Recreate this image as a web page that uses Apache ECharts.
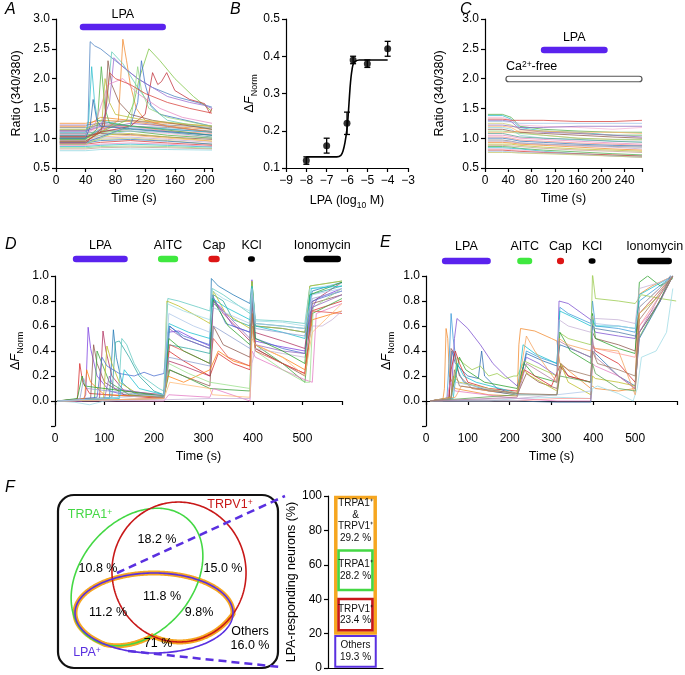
<!DOCTYPE html>
<html><head><meta charset="utf-8">
<script src="https://cdn.jsdelivr.net/npm/echarts/dist/echarts.min.js"></script>
<style>html,body{margin:0;padding:0;background:#fff}#c{width:685px;height:675px}</style>
</head><body><div id="c"></div>
<script>
const FONT = '"Liberation Sans", Arial, Helvetica, sans-serif';
const PALETTE = ['#3b78b5','#f28a2e','#4daf4a','#d8403a','#8e6bbf','#8c5a4b','#e68ac3','#8a8a8a','#bcbd3a','#2fbfcf','#9fc3e6','#ffb36b','#90d47f','#f4908d','#bfa9d6','#c4a092','#f4b3d3','#c9c96e','#8fd6e0','#5a9e8f'];
const LPA_C = '#5a22ee', AITC_C = '#3fe83f', CAP_C = '#dd1515', KCL_C = '#000', IONO_C = '#000';
const ORANGE = '#f6a620', VGREEN = '#44d844', VRED = '#c81818', VPURPLE = '#5a30e0';

// ---------- Panel A : Ratio (340/380) vs time ----------
const A_BASE_T = [5, 40, 60, 100, 150, 210];
const A_BASE = [
 [1.25,1.25,1.30,1.28,1.20,1.15],[1.22,1.22,1.25,1.20,1.15,1.10],[1.18,1.18,1.22,1.20,1.18,1.12],
 [1.15,1.15,1.20,1.18,1.12,1.05],[1.12,1.12,1.18,1.20,1.12,1.08],[1.10,1.10,1.15,1.12,1.08,1.00],
 [1.08,1.08,1.12,1.15,1.10,1.02],[1.05,1.05,1.10,1.12,1.05,1.00],[1.03,1.03,1.08,1.06,1.02,0.98],
 [1.00,1.00,1.05,1.08,1.02,0.95],[0.98,0.98,1.02,1.05,1.00,0.95],[0.96,0.96,1.00,1.02,0.98,0.93],
 [0.94,0.94,0.98,1.00,0.96,0.90],[0.92,0.92,0.96,0.98,0.95,0.90],[0.90,0.90,0.93,0.96,0.92,0.88],
 [0.88,0.88,0.90,0.92,0.90,0.86],[0.86,0.86,0.88,0.90,0.88,0.85],[0.84,0.84,0.86,0.87,0.86,0.83],
 [0.82,0.82,0.84,0.85,0.84,0.82],[0.79,0.79,0.81,0.82,0.81,0.80],[1.20,1.20,1.35,1.30,1.25,1.20],
 [1.00,1.00,1.15,1.25,1.20,1.10],[1.13,1.13,1.25,1.30,1.22,1.18],[0.97,0.97,1.05,1.12,1.10,1.05]
];
const A_RESP = [
 [5,1.05, 40,1.05, 43,1.2, 46,2.62, 52,2.55, 60,2.5, 75,2.35, 90,2.2, 110,2.0, 130,1.85, 160,1.7, 190,1.6, 210,1.52],
 [5,0.95, 40,0.95, 60,1.1, 84,1.3, 90,2.66, 95,2.3, 100,1.9, 108,1.5, 120,1.3, 150,1.2, 210,1.1],
 [5,1.0, 40,1.0, 60,1.1, 95,1.3, 105,1.6, 112,2.0, 125,2.5, 140,2.3, 160,2.0, 185,1.7, 200,1.55, 210,1.45],
 [5,1.1, 40,1.1, 44,1.3, 48,2.2, 52,1.6, 56,1.3, 100,1.2, 210,1.1],
 [5,1.0, 40,1.0, 65,1.2, 70,1.8, 75,2.45, 90,2.25, 110,1.85, 130,1.5, 150,1.3, 210,1.15],
 [5,0.98, 40,0.98, 55,1.15, 61,2.2, 66,1.5, 72,1.25, 210,1.05],
 [5,0.95, 40,0.95, 60,1.1, 66,1.4, 70,2.3, 75,1.9, 85,1.6, 100,1.4, 130,1.3, 210,1.15],
 [5,1.02, 40,1.02, 60,1.1, 100,1.2, 120,1.4, 130,2.1, 137,1.9, 142,1.95, 149,2.1, 160,1.8, 180,1.65, 200,1.58, 207,1.42, 210,1.5],
 [5,0.93, 40,0.93, 100,1.2, 110,1.6, 115,2.3, 120,1.9, 128,1.55, 140,1.4, 210,1.2],
 [5,1.12, 40,1.12, 60,1.2, 72,1.6, 78,2.35, 90,2.2, 110,2.0, 130,1.85, 150,1.7, 180,1.6, 200,1.55, 210,1.5],
 [5,0.9, 40,0.9, 100,1.2, 106,1.8, 110,2.2, 115,1.8, 125,1.5, 150,1.35, 210,1.2],
 [5,1.07, 40,1.07, 50,1.15, 70,1.9, 90,2.0, 110,1.75, 140,1.5, 170,1.35, 210,1.25],
 [5,1.0, 40,1.0, 46,1.2, 50,1.65, 55,1.3, 60,1.2, 210,1.05],
 [5,1.15, 40,1.15, 62,1.3, 66,2.0, 72,1.6, 80,1.4, 120,1.3, 210,1.2],
 [5,0.92, 40,0.92, 65,1.2, 72,2.1, 80,2.0, 100,1.9, 120,1.75, 150,1.6, 180,1.5, 210,1.42]
];
const A_RESP_COLORS = ['#4a7fc0','#f28a2e','#7cc440','#2fbfcf','#5fcab5','#4daf4a','#8c5a4b','#c0303a','#3b6fc8','#9a6bd0','#90d47f','#e68ac3','#2b6cb0','#bcbd3a','#d8403a'];

// ---------- Panel B : dose response ----------
const B_X = [-8, -7, -6, -5.7, -5, -4];
const B_Y = [0.12, 0.16, 0.22, 0.39, 0.38, 0.42];
const B_ERR = [0.01, 0.02, 0.03, 0.01, 0.01, 0.02];
const B_FIT = [[-8,0.13],[-6.5,0.13],[-6.3,0.134],[-6.2,0.145],[-6.1,0.168],[-6.0,0.205],[-5.95,0.235],[-5.9,0.275],[-5.85,0.315],[-5.8,0.345],[-5.75,0.365],[-5.7,0.378],[-5.6,0.386],[-5.4,0.39],[-4,0.39]];

// ---------- Panel C : Ca2+-free ----------
const C_T = [5, 30, 45, 60, 100, 160, 220, 270];
const C_VALUES = [
 [1.40,1.40,1.35,1.20,1.15,1.12,1.10,1.10],[1.38,1.38,1.32,1.18,1.12,1.10,1.05,1.05],[1.35,1.35,1.30,1.22,1.20,1.18,1.15,1.18],
 [1.32,1.32,1.30,1.30,1.30,1.28,1.28,1.30],[1.28,1.28,1.27,1.25,1.25,1.25,1.25,1.25],[1.25,1.25,1.22,1.15,1.12,1.08,1.05,1.05],
 [1.22,1.22,1.20,1.18,1.18,1.20,1.20,1.20],[1.20,1.20,1.18,1.10,1.05,1.00,0.98,0.97],[1.18,1.18,1.15,1.05,1.00,0.97,0.95,0.95],
 [1.15,1.15,1.12,1.10,1.08,1.05,1.02,1.00],[1.12,1.12,1.10,1.08,1.05,1.00,0.98,0.98],[1.08,1.08,1.05,1.02,1.00,0.98,0.95,0.93],
 [1.05,1.05,1.03,1.00,0.98,0.95,0.92,0.90],[1.02,1.02,1.00,0.97,0.95,0.92,0.90,0.88],[1.00,1.00,0.98,0.95,0.93,0.90,0.88,0.87],
 [0.97,0.97,0.95,0.92,0.90,0.88,0.86,0.85],[0.95,0.95,0.94,0.92,0.90,0.87,0.85,0.82],[0.93,0.93,0.92,0.90,0.88,0.85,0.82,0.80],
 [0.90,0.90,0.90,0.88,0.85,0.82,0.80,0.78],[0.88,0.88,0.87,0.86,0.83,0.80,0.78,0.76],[0.86,0.86,0.85,0.83,0.80,0.77,0.74,0.72],
 [0.84,0.84,0.83,0.82,0.78,0.74,0.71,0.70],[0.82,0.82,0.81,0.80,0.77,0.73,0.70,0.68],[0.80,0.80,0.79,0.78,0.76,0.74,0.72,0.70],
 [0.78,0.78,0.77,0.76,0.75,0.73,0.70,0.68],[0.76,0.76,0.76,0.75,0.74,0.72,0.70,0.68],[1.30,1.30,1.28,1.15,1.10,1.08,1.05,1.02],
 [1.10,1.10,1.10,1.12,1.12,1.10,1.10,1.08]
];

// ---------- Panel D ----------
const D_TRACES = [
 [5,0, 55,0, 62,0.05, 67,0.59, 72,0.42, 85,0.2, 110,0.08, 150,0.04, 220,0.03, 228,0.55, 250,0.56, 290,0.48, 313,0.44, 320,0.8, 335,0.75, 360,0.6, 394,0.55, 398,0.97, 404,0.48, 450,0.44, 505,0.4, 515,0.7, 530,0.82, 580,0.9],
 [5,0, 44,0, 46,0.05, 50,0.3, 56,0.15, 70,0.06, 220,0.02, 230,0.4, 260,0.32, 313,0.2, 330,0.38, 360,0.3, 394,0.25, 399,0.6, 405,0.42, 460,0.3, 505,0.22, 518,0.72, 580,0.8],
 [5,0, 90,0.02, 97,0.56, 103,0.4, 115,0.2, 140,0.08, 220,0.05, 230,0.32, 260,0.28, 313,0.2, 320,0.82, 340,0.7, 394,0.48, 398,0.9, 403,0.55, 460,0.48, 505,0.42, 515,0.78, 580,0.95],
 [5,0, 110,0.02, 118,0.57, 124,0.35, 135,0.15, 160,0.06, 220,0.04, 232,0.6, 260,0.5, 313,0.42, 316,0.98, 330,0.92, 360,0.85, 394,0.78, 398,0.95, 405,0.6, 460,0.58, 505,0.55, 520,0.88, 580,0.95],
 [5,0, 115,0.03, 122,0.47, 130,0.48, 150,0.35, 170,0.2, 200,0.08, 220,0.05, 230,0.45, 270,0.42, 313,0.38, 320,0.85, 340,0.8, 360,0.65, 394,0.6, 398,0.95, 405,0.62, 460,0.6, 505,0.58, 515,0.85, 580,0.92],
 [5,0, 128,0.03, 135,0.5, 145,0.45, 160,0.3, 175,0.2, 210,0.1, 220,0.08, 228,0.82, 250,0.8, 290,0.75, 313,0.72, 318,0.9, 340,0.85, 394,0.7, 398,0.95, 405,0.65, 460,0.64, 505,0.62, 515,0.92, 580,0.96],
 [5,0, 72,0.02, 78,0.45, 85,0.3, 100,0.15, 140,0.05, 220,0.03, 230,0.25, 260,0.2, 313,0.12, 320,0.6, 340,0.45, 394,0.35, 398,0.8, 405,0.42, 460,0.3, 505,0.2, 520,0.78, 580,0.85],
 [5,0, 80,0.02, 85,0.4, 95,0.3, 110,0.15, 150,0.05, 220,0.03, 232,0.25, 260,0.2, 313,0.1, 394,0.08, 398,0.7, 405,0.45, 460,0.3, 505,0.15, 520,0.7, 580,0.82],
 [5,0, 98,0.02, 105,0.44, 115,0.3, 130,0.15, 170,0.05, 220,0.04, 226,0.8, 250,0.76, 300,0.65, 313,0.62, 320,0.88, 345,0.7, 394,0.58, 398,0.96, 405,0.6, 460,0.58, 505,0.55, 515,0.92, 580,0.96],
 [5,0, 85,0.03, 95,0.35, 105,0.28, 130,0.22, 160,0.2, 180,0.23, 200,0.2, 220,0.22, 230,0.6, 260,0.52, 313,0.45, 318,0.85, 345,0.62, 394,0.55, 398,0.9, 405,0.5, 460,0.42, 505,0.38, 520,0.8, 580,0.88],
 [5,0, 220,0.0, 230,0.05, 313,0.03, 320,0.1, 394,0.0, 398,0.4, 405,0.35, 460,0.25, 505,0.17, 520,0.15, 528,0.7, 580,0.78],
 [5,0, 60,0.02, 64,0.25, 72,0.15, 100,0.05, 220,0.03, 228,0.2, 260,0.15, 313,0.25, 330,0.4, 360,0.32, 394,0.28, 398,0.6, 405,0.45, 460,0.35, 505,0.25, 520,0.65, 580,0.72],
 [5,0, 40,-0.01, 70,-0.03, 100,0.0, 220,0.02, 226,0.78, 260,0.72, 313,0.65, 318,0.88, 340,0.82, 394,0.72, 398,0.9, 405,0.64, 460,0.63, 505,0.6, 515,0.9, 580,0.94],
 [5,0, 220,0.02, 230,0.3, 270,0.22, 313,0.15, 394,0.1, 398,0.6, 405,0.4, 460,0.25, 505,0.15, 515,0.15, 522,0.75, 580,0.9],
 [5,0, 100,0.02, 110,0.2, 120,0.1, 220,0.04, 230,0.58, 260,0.5, 313,0.42, 320,0.78, 340,0.72, 394,0.5, 398,0.85, 405,0.45, 460,0.4, 505,0.38, 520,0.75, 580,0.85],
 [5,0, 220,0.02, 232,0.45, 260,0.4, 313,0.3, 320,0.5, 350,0.35, 394,0.28, 398,0.7, 405,0.4, 460,0.3, 505,0.22, 520,0.72, 580,0.7],
 [5,0, 220,0.01, 313,0.02, 394,0.02, 398,0.3, 405,0.42, 460,0.38, 505,0.35, 520,0.6, 540,0.6, 560,0.65, 580,0.72],
 [5,0, 45,0.02, 55,0.2, 60,0.12, 220,0.04, 230,0.5, 260,0.4, 313,0.3, 318,0.82, 350,0.6, 394,0.45, 398,0.9, 405,0.5, 460,0.4, 505,0.3, 515,0.85, 580,0.95],
 [5,0, 130,0.02, 140,0.25, 150,0.2, 170,0.1, 220,0.05, 230,0.62, 270,0.55, 313,0.5, 318,0.82, 345,0.75, 394,0.65, 398,0.92, 405,0.6, 460,0.55, 505,0.5, 518,0.9, 580,0.92],
 [5,0, 220,0.02, 232,0.15, 313,0.1, 318,0.05, 394,0.03, 398,0.5, 405,0.45, 460,0.35, 505,0.2, 520,0.55, 580,0.78],
 [5,0, 50,0.01, 58,0.18, 65,0.1, 220,0.03, 230,0.35, 313,0.28, 320,0.6, 394,0.42, 398,0.85, 405,0.58, 505,0.52, 520,0.82, 580,0.88],
 [5,0, 220,0.05, 230,0.7, 280,0.6, 313,0.55, 318,0.75, 394,0.62, 398,0.9, 405,0.62, 505,0.58, 520,0.85, 580,0.9]
];
const D_COLORS = ['#7b3fe0','#d62728','#b03060','#1f77b4','#2ca6a0','#5ec8c0','#8c564b','#3aa03a','#bcbd22','#4a6fd0','#e377c2','#ff7f0e','#9edae5','#98df8a','#9467bd','#e0504a','#c5b0d5','#2ca02c','#17becf','#ffbb78','#8c9fd0','#aec7e8'];

// ---------- Panel E ----------
const E_TRACES = [
 [10,0, 40,0, 44,0.1, 48,0.58, 52,0.5, 56,0.2, 70,0.1, 150,0.05, 218,0.04, 222,0.45, 226,0.58, 260,0.56, 300,0.5, 313,0.48, 320,0.3, 394,0.1, 398,0.12, 405,0.1, 460,0.08, 500,0.1, 508,0.85, 540,0.92, 590,1.0],
 [10,0, 50,0.02, 55,0.3, 60,0.7, 65,0.5, 75,0.25, 90,0.15, 150,0.08, 218,0.05, 240,0.4, 270,0.35, 313,0.3, 320,0.75, 340,0.7, 394,0.62, 398,0.8, 405,0.6, 460,0.58, 500,0.55, 510,0.8, 590,1.0],
 [10,0, 60,0.03, 68,0.5, 74,0.66, 100,0.58, 130,0.45, 160,0.3, 190,0.2, 218,0.12, 240,0.35, 270,0.3, 313,0.2, 318,0.8, 340,0.78, 394,0.65, 398,0.6, 405,0.55, 460,0.52, 500,0.5, 510,0.7, 550,0.85, 590,1.0],
 [10,0, 55,0.02, 62,0.4, 70,0.3, 100,0.2, 125,0.18, 133,0.4, 140,0.2, 170,0.1, 218,0.05, 240,0.38, 280,0.32, 313,0.28, 320,0.45, 360,0.4, 394,0.35, 398,0.4, 405,0.38, 460,0.2, 500,0.12, 510,0.5, 560,0.8, 590,1.0],
 [10,0, 55,0.02, 60,0.42, 68,0.38, 80,0.2, 110,0.1, 218,0.05, 240,0.22, 270,0.15, 313,0.1, 325,0.28, 340,0.2, 394,0.15, 398,0.55, 405,0.5, 460,0.45, 500,0.4, 510,0.75, 590,1.0],
 [10,0, 60,0.02, 75,0.35, 90,0.3, 110,0.25, 130,0.28, 150,0.2, 170,0.22, 190,0.18, 210,0.2, 218,0.2, 235,0.32, 260,0.28, 313,0.2, 318,0.55, 340,0.5, 394,0.45, 398,1.02, 405,0.82, 460,0.8, 500,0.78, 515,0.85, 560,0.82, 598,0.8],
 [10,0, 60,0.02, 80,0.35, 95,0.25, 140,0.15, 218,0.1, 235,0.3, 260,0.2, 313,0.15, 320,0.55, 345,0.4, 394,0.3, 398,0.7, 405,0.5, 460,0.42, 500,0.38, 510,0.95, 530,1.0, 560,0.92, 590,0.98],
 [10,0, 55,0.02, 60,0.25, 70,0.4, 80,0.3, 100,0.15, 150,0.1, 218,0.08, 235,0.25, 260,0.2, 300,0.12, 320,0.28, 340,0.2, 394,0.15, 398,0.45, 405,0.4, 460,0.3, 500,0.15, 510,0.55, 550,0.75, 590,1.0],
 [10,0, 65,0.02, 75,0.3, 90,0.2, 120,0.15, 200,0.08, 218,0.06, 232,0.45, 260,0.38, 313,0.3, 320,0.72, 345,0.68, 394,0.6, 398,0.65, 405,0.6, 460,0.6, 500,0.58, 510,0.85, 590,1.0],
 [10,0, 150,0.0, 218,0.02, 313,0.03, 394,0.02, 398,0.1, 410,0.12, 460,0.06, 495,0.0, 505,0.1, 515,0.35, 550,0.4, 575,0.55, 590,0.9],
 [10,0, 50,0.02, 58,0.15, 70,0.08, 218,0.02, 313,0.0, 394,0.0, 398,0.3, 405,0.28, 460,0.2, 500,0.1, 510,0.6, 560,0.8, 590,1.0],
 [10,0, 60,0.03, 65,0.2, 80,0.15, 218,0.05, 232,0.25, 250,0.2, 313,0.08, 322,0.3, 340,0.15, 394,0.05, 398,0.2, 405,0.18, 460,0.15, 500,0.12, 510,0.7, 560,0.85, 590,1.0],
 [10,0, 218,0.0, 313,0.02, 394,0.02, 398,0.42, 405,0.42, 460,0.38, 500,0.35, 510,0.6, 550,0.8, 590,1.0],
 [10,0, 218,0.02, 313,0.05, 318,0.65, 340,0.6, 394,0.55, 398,0.68, 405,0.66, 460,0.65, 500,0.62, 510,0.9, 560,0.95, 590,1.0],
 [10,0, 218,0.0, 313,-0.01, 394,-0.01, 398,0.6, 405,0.58, 460,0.55, 500,0.52, 510,0.55, 560,0.8, 598,1.12],
 [10,0, 70,0.03, 85,0.12, 150,0.08, 218,0.07, 240,0.52, 260,0.4, 313,0.15, 318,0.5, 340,0.45, 394,0.4, 398,0.45, 405,0.42, 460,0.4, 500,0.05, 510,0.7, 590,1.0],
 [10,0, 218,0.05, 313,0.05, 320,0.2, 394,0.15, 398,0.3, 405,0.22, 460,0.1, 500,0.08, 508,0.5, 550,0.75, 590,1.0],
 [10,0, 60,0.02, 70,0.15, 218,0.05, 313,0.05, 394,0.08, 398,0.55, 405,0.62, 460,0.6, 500,0.58, 510,0.75, 590,1.0],
 [10,0, 218,0.03, 240,0.3, 313,0.15, 318,0.48, 360,0.4, 394,0.35, 398,0.5, 405,0.35, 460,0.2, 500,0.1, 510,0.55, 560,0.85, 590,1.0],
 [10,0, 60,0.02, 68,0.25, 80,0.12, 218,0.06, 313,0.05, 322,0.3, 340,0.25, 394,0.2, 398,0.4, 410,0.3, 460,0.25, 500,0.2, 510,0.65, 590,1.0]
];
const E_COLORS = ['#f28a2e','#3a9ad9','#7b4fd0','#2b6cb0','#8c564b','#98c94a','#2ca02c','#d62728','#17becf','#9edae5','#e377c2','#bcbd22','#ff9896','#c5b0d5','#4e79a7','#f5a05a','#59a14f','#aec7e8','#b07aa1','#9c755f'];

// ---------- Drug application bars ----------
const A_DRUGS = [{name:'LPA', t:[32,148], color:LPA_C}];
const D_DRUGS = [{name:'LPA',t:[36,147],color:LPA_C},{name:'AITC',t:[208,249],color:AITC_C},{name:'Cap',t:[310,333],color:CAP_C},{name:'KCl',t:[397,397],color:KCL_C},{name:'Ionomycin',t:[502,578],color:IONO_C}];
const E_DRUGS = [{name:'LPA',t:[38,155],color:LPA_C},{name:'AITC',t:[218,254],color:AITC_C},{name:'Cap',t:[313,330],color:CAP_C},{name:'KCl',t:[397,397],color:KCL_C},{name:'Ionomycin',t:[505,588],color:IONO_C}];
const C_LPA = [96, 211];
const C_CAFREE = [36, 270];

// ---------- Panel F ----------
const F_NAMES = ['Others', 'TRPV1⁺', 'TRPA1⁺', 'TRPA1⁺\n&\nTRPV1⁺'];
const F_VALUES = [19.3, 23.4, 28.2, 29.2];
const F_COLORS = [VPURPLE, VRED, VGREEN, ORANGE];
const VENN_PCT = ['18.2 %', '10.8 %', '15.0 %', '11.8 %', '11.2 %', '9.8%', '71 %', 'Others\n16.0 %'];

// ================= helpers =================
function pairs(flat){ const o=[]; for(let i=0;i<flat.length;i+=2) o.push([flat[i], flat[i+1]]); return o; }
const series = [];
function addLine(g, data, color, w){
  series.push({type:'line', xAxisIndex:g, yAxisIndex:g, data, symbol:'none', showSymbol:false, silent:true,
    animation:false, lineStyle:{color, width:w||0.85, opacity:0.9}, z:2});
}
const AXL = {show:true, lineStyle:{color:'#000', width:1.2}};
const AXT = {show:true, length:4, inside:false, lineStyle:{color:'#000', width:1.2}};
function vAxis(g, min, max, interval, fmt, extra){
  return Object.assign({type:'value', gridIndex:g, min, max, interval, splitLine:{show:false},
    axisLine:AXL, axisTick:AXT,
    axisLabel:{color:'#000', fontSize:12, fontFamily:FONT, margin:6, formatter:fmt}}, extra||{});
}
const f1 = v => (Math.abs(v)<1e-9 ? 0 : v).toFixed(1);
const NAMESTYLE = {color:'#000', fontSize:12.5, fontFamily:FONT};
const DF_NAME = '{a|Δ}{i|F}{s|Norm}';
const DF_STYLE = {color:'#000', fontFamily:FONT, rich:{
  a:{fontSize:13, fontFamily:FONT, lineHeight:20, verticalAlign:'middle'},
  i:{fontSize:13, fontFamily:FONT, fontStyle:'italic', lineHeight:20, verticalAlign:'middle'},
  s:{fontSize:9, fontFamily:FONT, lineHeight:20, verticalAlign:'bottom'}}};

// ================= build series =================
A_BASE.forEach((vals,i)=> addLine(0, vals.map((v,k)=>[A_BASE_T[k], v]), PALETTE[(i*3+1)%PALETTE.length]));
A_RESP.forEach((tr,i)=> addLine(0, pairs(tr), A_RESP_COLORS[i]));
C_VALUES.forEach((vals,i)=> addLine(2, vals.map((v,k)=>[C_T[k], v]), PALETTE[(i*7+2)%PALETTE.length]));
D_TRACES.forEach((tr,i)=> addLine(3, pairs(tr), D_COLORS[i%D_COLORS.length]));
E_TRACES.forEach((tr,i)=> addLine(4, pairs(tr), E_COLORS[i%E_COLORS.length]));

// Panel B
series.push({type:'line', xAxisIndex:1, yAxisIndex:1, data:B_FIT, smooth:0.3, symbol:'none', silent:true,
  lineStyle:{color:'#000', width:1.6}, z:3});
series.push({type:'custom', xAxisIndex:1, yAxisIndex:1, silent:true, z:4,
  data: B_X.map((x,i)=>[x, B_Y[i]-B_ERR[i], B_Y[i]+B_ERR[i]]),
  renderItem:(p, api)=>{
    const lo = api.coord([api.value(0), api.value(1)]), hi = api.coord([api.value(0), api.value(2)]);
    const st = {stroke:'#000', lineWidth:1.3};
    return {type:'group', children:[
      {type:'line', shape:{x1:lo[0], y1:lo[1], x2:hi[0], y2:hi[1]}, style:st},
      {type:'line', shape:{x1:lo[0]-3, y1:lo[1], x2:lo[0]+3, y2:lo[1]}, style:st},
      {type:'line', shape:{x1:hi[0]-3, y1:hi[1], x2:hi[0]+3, y2:hi[1]}, style:st}]};
  }});
series.push({type:'scatter', xAxisIndex:1, yAxisIndex:1, data:B_X.map((x,i)=>[x,B_Y[i]]), symbol:'circle', symbolSize:7,
  itemStyle:{color:'#000'}, silent:true, z:5});

// Panel F stacked bar
const F_ROWS = []; let acc = 0;
F_VALUES.forEach((v,i)=>{ F_ROWS.push([0, acc, acc+v, i]); acc += v; });
const F_OUTER = [[0, F_VALUES[0], acc, -1]];
function fRender(p, api){
  const i = api.value(3);
  const a = api.coord([api.value(0), api.value(1)]), b = api.coord([api.value(0), api.value(2)]);
  const bw = api.size([1,0])[0]*0.78;
  const left = a[0]-bw/2;
  if (i === -1) {
    return {type:'rect', shape:{x:left+1.75, y:b[1]+1.75, width:bw-3.5, height:a[1]-b[1]-3.5}, style:{fill:'#fff', stroke:ORANGE, lineWidth:3.5}};
  }
  const ins = (i===1||i===2) ? 4.5 : (i===3 ? 3.5 : 1.2);
  const children = [];
  if (i !== 3) children.push({type:'rect', shape:{x:left+ins, y:b[1]+ins, width:bw-2*ins, height:a[1]-b[1]-2*ins},
      style:{fill:'#fff', stroke:F_COLORS[i], lineWidth: i===0 ? 2 : 2.6}});
  children.push({type:'text', style:{text:F_NAMES[i]+'\n'+F_VALUES[i].toFixed(1)+' %', x:a[0], y:(a[1]+b[1])/2,
      align:'center', verticalAlign:'middle', fontSize:10, lineHeight:11.5, fontFamily:FONT, fill:'#111'}});
  return {type:'group', children};
}
series.push({type:'custom', xAxisIndex:5, yAxisIndex:5, data:F_OUTER, renderItem:fRender, silent:true, z:3});
series.push({type:'custom', xAxisIndex:5, yAxisIndex:5, data:F_ROWS, renderItem:fRender, silent:true, z:4});

const grids = [
  {left:56, top:19, width:156, height:149},
  {left:286, top:19, width:122, height:149},
  {left:485, top:19, width:157, height:149},
  {left:55, top:276, width:287, height:150},
  {left:426, top:276, width:251, height:150},
  {left:328, top:496, width:55, height:172}
].map(g=>Object.assign({outerBoundsMode:'none', containLabel:false, show:false}, g));

const xAxis = [
  vAxis(0, 0, 210, 40, v => v%40===0 ? v : '', {name:'Time (s)', nameLocation:'middle', nameGap:24, nameTextStyle:NAMESTYLE, axisLabel:{color:'#000',fontSize:12,fontFamily:FONT,margin:7,formatter:v=>v%40===0?v:''}}),
  vAxis(1, -9, -3, 1, v => String(v).replace('-', '−'), {name:'{a|LPA (log}{s|10}{a| M)}', nameLocation:'middle', nameGap:24,
     nameTextStyle:{color:'#000', fontFamily:FONT, rich:{a:{fontSize:12.5,fontFamily:FONT,lineHeight:18,verticalAlign:'middle'}, s:{fontSize:8.5,fontFamily:FONT,lineHeight:18,verticalAlign:'bottom'}}},
     axisLabel:{color:'#000',fontSize:12,fontFamily:FONT,margin:7,formatter:v=>String(v).replace('-', '−')}}),
  vAxis(2, 0, 270, 40, v => v%40===0 ? v : '', {name:'Time (s)', nameLocation:'middle', nameGap:24, nameTextStyle:NAMESTYLE, axisLabel:{color:'#000',fontSize:12,fontFamily:FONT,margin:7,formatter:v=>v%40===0?v:''}}),
  vAxis(3, 0, 580, 100, v => v%100===0 ? v : '', {name:'Time (s)', nameLocation:'middle', nameGap:24, nameTextStyle:NAMESTYLE, axisLabel:{color:'#000',fontSize:12,fontFamily:FONT,margin:7,formatter:v=>v%100===0?v:''}}),
  vAxis(4, 0, 600, 100, v => (v%100===0 && v<600) ? v : '', {name:'Time (s)', nameLocation:'middle', nameGap:24, nameTextStyle:NAMESTYLE, axisLabel:{color:'#000',fontSize:12,fontFamily:FONT,margin:7,formatter:v=>(v%100===0&&v<600)?v:''}}),
  {type:'category', gridIndex:5, data:['LPA⁺'], axisLine:AXL, axisTick:{show:false}, axisLabel:{show:false}, splitLine:{show:false}}
];
const yAxis = [
  vAxis(0, 0.5, 3.0, 0.5, f1, {name:'Ratio (340/380)', nameLocation:'middle', nameGap:33, nameTextStyle:NAMESTYLE}),
  vAxis(1, 0.1, 0.5, 0.1, f1, {name:DF_NAME, nameLocation:'middle', nameGap:24, nameTextStyle:DF_STYLE}),
  vAxis(2, 0.5, 3.0, 0.5, f1, {name:'Ratio (340/380)', nameLocation:'middle', nameGap:39, nameTextStyle:NAMESTYLE}),
  vAxis(3, -0.2, 1.0, 0.2, v => v < -0.1 ? '' : f1(v), {name:DF_NAME, nameLocation:'middle', nameGap:30, nameTextStyle:DF_STYLE}),
  vAxis(4, -0.2, 1.0, 0.2, v => v < -0.1 ? '' : f1(v), {name:DF_NAME, nameLocation:'middle', nameGap:30, nameTextStyle:DF_STYLE}),
  vAxis(5, 0, 100, 20, v => v, {name:'LPA-responding neurons (%)', nameLocation:'middle', nameGap:26, nameTextStyle:NAMESTYLE})
];

const chart = echarts.init(document.getElementById('c'), null, {renderer:'canvas'});
chart.setOption({animation:false, backgroundColor:'#fff', grid:grids, xAxis, yAxis, series});

// ================= graphic annotations =================
const G = [];
function txt(text, x, y, opt){ G.push({type:'text', z:50, style:Object.assign({text, x, y, fill:'#000', fontSize:12.5, fontFamily:FONT, align:'center', verticalAlign:'middle'}, opt||{})}); }
function capsule(x1, x2, yc, h, fill, stroke){
  const w = Math.max(x2-x1, 7);
  const xl = x2-x1 < 7 ? (x1+x2)/2-3.5 : x1;
  G.push({type:'rect', z:50, shape:{x:xl, y:yc-h/2, width:w, height:h, r:h/2}, style:{fill, stroke:stroke||fill, lineWidth:stroke?1.2:0}});
}
const px = (ax, t) => chart.convertToPixel({xAxisIndex:ax}, t);
function drugRow(ax, drugs, yLabel, yBar){
  drugs.forEach(d=>{
    const x1 = px(ax, d.t[0]), x2 = px(ax, d.t[1]);
    const h = d.name==='KCl' ? 5.5 : 6.5;
    capsule(x1, x2, yBar, h, d.color);
    txt(d.name, (x1+x2)/2, yLabel);
  });
}
drugRow(0, A_DRUGS, 15, 27);
drugRow(3, D_DRUGS, 246, 259);
drugRow(4, E_DRUGS, 247, 261);
// Panel C
{ const a=px(2,C_LPA[0]), b=px(2,C_LPA[1]); capsule(a,b,50,6.5,LPA_C); txt('LPA',(a+b)/2,38);
  const c=px(2,C_CAFREE[0]), d=px(2,C_CAFREE[1]); capsule(c,d,79,5.5,'#fff','#555');
  txt('{a|Ca}{p|2+}{a|-free}', c, 67, {align:'left', rich:{a:{fontSize:12.5,fontFamily:FONT}, p:{fontSize:8.5,fontFamily:FONT,verticalAlign:'top',lineHeight:14}}}); }

// Panel letters
[['A',5,10],['B',230,10],['C',460,10],['D',5,245],['E',380,243],['F',5,488]].forEach(l=>
  txt(l[0], l[1], l[2], {align:'left', fontSize:16, fontStyle:'italic'}));

// ---- Venn diagram ----
const EG = {cx:137, cy:577, rx:77, ry:56, rot:-49*Math.PI/180};
const ER = {cx:179, cy:572, rx:67, ry:70, rot:-0.12};
const EL = {cx:154, cy:613, rx:79, ry:40, rot:0};
function ptOn(e,t){ const c=Math.cos(e.rot), s=Math.sin(e.rot), u=e.rx*Math.cos(t), v=e.ry*Math.sin(t); return [e.cx+u*c-v*s, e.cy+u*s+v*c]; }
function inside(e,p){ const dx=p[0]-e.cx, dy=p[1]-e.cy, c=Math.cos(e.rot), s=Math.sin(e.rot); const u=dx*c+dy*s, v=-dx*s+dy*c; return u*u/(e.rx*e.rx)+v*v/(e.ry*e.ry) <= 1.0001; }
function ellPts(e,n){ const o=[]; for(let i=0;i<n;i++) o.push(ptOn(e, 2*Math.PI*i/n)); return o; }
function runs(e, keep, n){
  const pts = ellPts(e,n).map(p=>[p, keep(p)]);
  const start = pts.findIndex(q=>!q[1]);
  if (start < 0) return [pts.map(q=>q[0]).concat([pts[0][0]])];
  const out=[]; let cur=null;
  for (let k=1;k<=n;k++){ const q=pts[(start+k)%n]; if(q[1]){ if(!cur) cur=[]; cur.push(q[0]); } else if(cur){ out.push(cur); cur=null; } }
  if (cur) out.push(cur);
  return out;
}
G.push({type:'rect', z:10, shape:{x:58, y:495, width:220, height:173, r:16}, style:{fill:'none', stroke:'#111', lineWidth:2.2}});
const orangeRuns = [].concat(
  runs(EL, p=>inside(EG,p)||inside(ER,p), 720),
  runs(EG, p=>inside(EL,p)&&!inside(ER,p), 720),
  runs(ER, p=>inside(EL,p)&&!inside(EG,p), 720));
orangeRuns.forEach(r=> G.push({type:'polyline', z:11, shape:{points:r}, style:{fill:'none', stroke:ORANGE, lineWidth:5, lineCap:'round', lineJoin:'round'}}));
[[EG,VGREEN],[ER,VRED],[EL,VPURPLE]].forEach(([e,c])=> G.push({type:'polygon', z:12, shape:{points:ellPts(e,240)}, style:{fill:'none', stroke:c, lineWidth:1.6}}));
// dashed connectors to bar
G.push({type:'line', z:13, shape:{x1:117, y1:573, x2:285, y2:496}, style:{stroke:VPURPLE, lineWidth:2.5, lineDash:[8,5]}});
G.push({type:'line', z:13, shape:{x1:128, y1:651, x2:280, y2:667}, style:{stroke:VPURPLE, lineWidth:2.5, lineDash:[8,5]}});
// labels
const supRich = (col)=>({a:{fontSize:12.5,fontFamily:FONT,fill:col}, p:{fontSize:8.5,fontFamily:FONT,fill:col,verticalAlign:'top',lineHeight:14}});
txt('{a|TRPA1}{p|+}', 90, 515, {rich:supRich(VGREEN)});
txt('{a|TRPV1}{p|+}', 230, 505, {rich:supRich(VRED)});
txt('{a|LPA}{p|+}', 87, 653, {rich:supRich(VPURPLE)});
const VENN_POS = [[157,540],[98,569],[223,569],[162,597],[108,613],[199,613],[158,644],[250,639]];
VENN_PCT.forEach((s,i)=> txt(s, VENN_POS[i][0], VENN_POS[i][1], {fontSize:12.5, lineHeight:14}));

chart.setOption({graphic: G});
</script></body></html>
